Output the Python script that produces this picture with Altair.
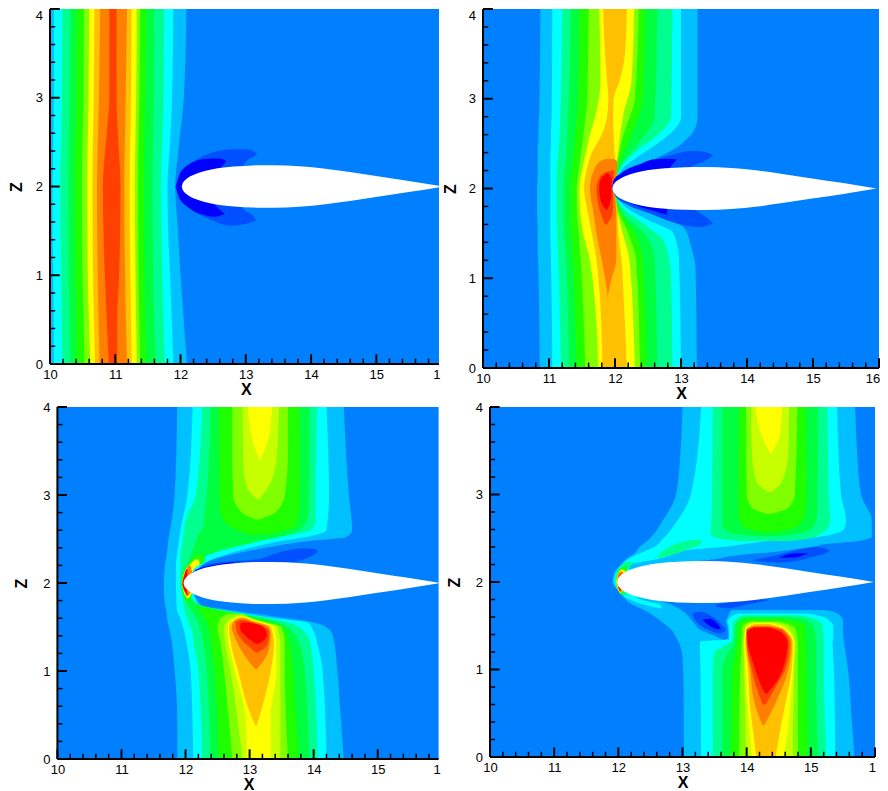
import altair as alt
import pandas as pd

LEVEL_IDS = list(range(15))
LEVEL_COLORS = ["#0000ff", "#0050ff", "#0080ff", "#00c0ff", "#00ffff", "#00ff90", "#00ff40", "#20ff00",
                "#80ff00", "#c8ff00", "#ffff00", "#ffc000", "#ff8000", "#ff4000", "#ff0000"]
BG = "#0080ff"

X_MAJOR = [10, 11, 12, 13, 14, 15, 16]
X_MINOR = [10.2, 10.4, 10.6, 10.8, 11.2, 11.4, 11.6, 11.8, 12.2, 12.4, 12.6, 12.8, 13.2, 13.4, 13.6, 13.8,
           14.2, 14.4, 14.6, 14.8, 15.2, 15.4, 15.6, 15.8]
Z_MAJOR = [0, 1, 2, 3, 4]
Z_MINOR = [0.2, 0.4, 0.6, 0.8, 1.2, 1.4, 1.6, 1.8, 2.2, 2.4, 2.6, 2.8, 3.2, 3.4, 3.6, 3.8]

AIRFOIL_X = [12.0, 12.01, 12.03, 12.07, 12.13, 12.22, 12.35, 12.55, 12.8, 13.1, 13.4, 13.8, 14.2, 14.6, 15.0, 15.5, 16.0]
AIRFOIL_T = [0, 0.03, 0.055, 0.085, 0.115, 0.145, 0.175, 0.205, 0.225, 0.238, 0.24, 0.228, 0.2, 0.16, 0.115, 0.06, 0]

# bands: (level, [(z, x_left, x_right), ...])
P1_BANDS = [
    (3, [(0, 10, 12.10), (1, 10, 12.00), (1.5, 10, 11.96), (2, 10, 11.92), (2.5, 10, 11.98), (3, 10, 12.05), (4, 10, 12.09)]),
    (4, [(0, 10.06, 11.89), (1, 10.05, 11.84), (1.5, 10.04, 11.81), (2, 10.04, 11.80), (2.5, 10.05, 11.84), (3, 10.06, 11.87), (4, 10.06, 11.89)]),
    (5, [(0, 10.19, 11.76), (1, 10.17, 11.72), (2, 10.16, 11.70), (3, 10.18, 11.74), (4, 10.19, 11.75)]),
    (6, [(0, 10.31, 11.62), (1, 10.29, 11.58), (2, 10.28, 11.57), (3, 10.30, 11.59), (4, 10.31, 11.60)]),
    (7, [(0, 10.41, 11.47), (1, 10.39, 11.45), (2, 10.38, 11.44), (3, 10.40, 11.46), (4, 10.41, 11.47)]),
    (8, [(0, 10.53, 11.38), (1, 10.50, 11.36), (2, 10.49, 11.35), (3, 10.51, 11.37), (4, 10.52, 11.38)]),
    (10, [(0, 10.62, 11.33), (1, 10.58, 11.31), (2, 10.57, 11.30), (3, 10.59, 11.32), (4, 10.60, 11.33)]),
    (11, [(0, 10.69, 11.25), (1, 10.66, 11.23), (2, 10.65, 11.22), (3, 10.67, 11.24), (4, 10.68, 11.25)]),
    (12, [(0, 10.76, 11.18), (1, 10.73, 11.15), (2, 10.72, 11.14), (3, 10.75, 11.16), (4, 10.77, 11.18)]),
    (13, [(0, 10.90, 11.03), (0.5, 10.87, 11.03), (1, 10.84, 11.06), (2, 10.81, 11.08), (2.6, 10.87, 11.04), (3, 10.91, 11.02), (4, 10.91, 11.02)]),
]
# patches: (level, [(x, z_low, z_high), ...])
P1_PATCHES = [
    (1, [(11.92, 1.99, 2.0), (12.0, 2.0, 2.14), (12.16, 2.0, 2.255), (12.42, 2.0, 2.367), (12.82, 2.05, 2.42), (13.0, 2.28, 2.42), (13.08, 2.32, 2.41), (13.18, 2.367, 2.367)]),
    (1, [(11.92, 2.0, 2.01), (12.0, 1.86, 2.0), (12.16, 1.74, 2.0), (12.42, 1.64, 2.0), (12.78, 1.558, 1.95), (13.0, 1.58, 1.72), (13.1, 1.60, 1.68), (13.16, 1.62, 1.62)]),
    (0, [(11.93, 2.0, 2.0), (11.98, 2.0, 2.13), (12.11, 2.0, 2.24), (12.36, 2.05, 2.31), (12.6, 2.2, 2.315), (12.7, 2.285, 2.285)]),
    (0, [(11.93, 2.0, 2.0), (11.98, 1.87, 2.0), (12.11, 1.77, 2.0), (12.36, 1.68, 1.95), (12.52, 1.66, 1.8), (12.68, 1.69, 1.69)]),
]

P2_BANDS = [
    (3, [(0, 10.86, 13.24), (1.1, 10.84, 13.22), (1.36, 10.83, 13.15), (1.56, 10.83, 13.05), (1.7, 10.82, 12.64), (1.8, 10.82, 12.3), (1.9, 10.82, 12.1), (2, 10.82, 12.0), (2.2, 10.83, 12.15), (2.33, 10.83, 12.6), (2.45, 10.83, 12.92), (2.56, 10.84, 13.1), (2.65, 10.84, 13.2), (2.8, 10.85, 13.25), (4, 10.87, 13.25)]),
    (4, [(0, 11.05, 13.0), (1.2, 11.03, 12.97), (1.5, 11.02, 12.89), (1.65, 11.02, 12.5), (1.8, 11.02, 12.15), (2, 11.02, 12.0), (2.2, 11.02, 12.09), (2.35, 11.02, 12.34), (2.5, 11.03, 12.64), (2.65, 11.03, 12.89), (2.8, 11.04, 13.0), (4, 11.05, 13.0)]),
    (5, [(0, 11.18, 12.87), (1, 11.15, 12.85), (1.4, 11.13, 12.75), (1.6, 11.12, 12.45), (1.8, 11.12, 12.1), (2, 11.12, 12.0), (2.2, 11.12, 12.06), (2.4, 11.14, 12.3), (2.6, 11.16, 12.65), (2.8, 11.17, 12.85), (4, 11.2, 12.87)]),
    (6, [(0, 11.3, 12.64), (1.2, 11.26, 12.6), (1.5, 11.23, 12.45), (1.7, 11.22, 12.15), (2, 11.22, 12.0), (2.3, 11.25, 12.13), (2.5, 11.27, 12.35), (2.8, 11.29, 12.6), (4, 11.33, 12.64)]),
    (7, [(0, 11.42, 12.48), (1.2, 11.36, 12.42), (1.5, 11.33, 12.3), (1.7, 11.32, 12.12), (2, 11.32, 12), (2.3, 11.36, 12.08), (2.6, 11.4, 12.25), (3, 11.44, 12.42), (4, 11.46, 12.46)]),
    (8, [(0, 11.55, 12.38), (1.2, 11.48, 12.32), (1.5, 11.45, 12.2), (1.8, 11.42, 12.03), (2, 11.42, 12), (2.2, 11.45, 12.02), (2.6, 11.52, 12.13), (3, 11.58, 12.3), (4, 11.6, 12.36)]),
    (10, [(0, 11.75, 12.3), (1.2, 11.62, 12.22), (1.5, 11.52, 12.12), (1.9, 11.46, 12.0), (2, 11.46, 12.0), (2.2, 11.5, 12.0), (2.4, 11.56, 12.05), (2.6, 11.62, 12.08), (2.8, 11.7, 12.12), (3.2, 11.78, 12.25), (4, 11.76, 12.29)]),
    (11, [(0, 11.81, 12.18), (0.8, 11.77, 12.13), (1.2, 11.72, 12.1), (1.5, 11.65, 12.05), (1.8, 11.57, 12.03), (2, 11.53, 12.0), (2.2, 11.57, 12.03), (2.4, 11.65, 11.99), (2.6, 11.8, 11.98), (2.8, 11.88, 11.97), (3, 11.9, 11.98), (3.2, 11.88, 12.07), (3.5, 11.85, 12.15), (4, 11.82, 12.18)]),
    (12, [(0.8, 11.89, 11.89), (1, 11.85, 11.95), (1.2, 11.8, 12.02), (1.5, 11.72, 12.02), (1.7, 11.68, 12.02), (2, 11.62, 12.0), (2.2, 11.68, 12.03), (2.3, 11.77, 12.03), (2.33, 11.85, 11.98)]),
    (13, [(1.6, 11.85, 11.88), (1.75, 11.77, 11.97), (2, 11.72, 11.97), (2.1, 11.75, 11.98), (2.17, 11.83, 11.98), (2.2, 11.95, 12.0)]),
    (14, [(1.76, 11.87, 11.88), (1.85, 11.79, 11.93), (2, 11.76, 11.95), (2.1, 11.78, 11.95), (2.17, 11.88, 11.9)]),
]
P2_PATCHES = [
    (1, [(11.95, 2.0, 2.0), (11.98, 2.0, 2.08), (12.14, 2.0, 2.19), (12.44, 2.0, 2.28), (12.84, 2.1, 2.37), (13.17, 2.25, 2.42), (13.35, 2.3, 2.41), (13.49, 2.37, 2.37)]),
    (1, [(11.95, 2.0, 2.0), (12.01, 1.91, 2.0), (12.19, 1.82, 2.0), (12.54, 1.72, 2.0), (12.94, 1.61, 1.9), (13.3, 1.57, 1.72), (13.42, 1.59, 1.66), (13.49, 1.61, 1.61)]),
    (0, [(11.96, 2.0, 2.0), (11.98, 2.0, 2.09), (12.09, 2.0, 2.17), (12.34, 2.0, 2.26), (12.64, 2.1, 2.33), (12.85, 2.25, 2.33), (12.94, 2.325, 2.325)]),
    (0, [(11.96, 2.0, 2.0), (11.98, 1.96, 2.0), (12.09, 1.89, 2.0), (12.29, 1.82, 2.0), (12.54, 1.76, 2.0), (12.79, 1.705, 1.8)]),
]

P3_BANDS = [
    (3, [(0, 11.87, 14.47), (0.5, 11.87, 14.42), (1, 11.83, 14.37), (1.4, 11.77, 14.30), (1.5, 11.74, 14.19), (1.56, 11.72, 13.95), (1.62, 11.71, 13.38), (1.68, 11.70, 12.81), (1.75, 11.68, 12.24), (2, 11.66, 12.1), (2.2, 11.68, 12.2), (2.3, 11.7, 12.6), (2.4, 11.72, 13.25), (2.48, 11.73, 13.95), (2.52, 11.74, 14.5), (2.6, 11.76, 14.6), (3, 11.83, 14.55), (4, 11.87, 14.47)]),
    (4, [(0, 12.12, 14.2), (1, 12.08, 14.14), (1.3, 12.02, 14.06), (1.45, 11.98, 14.0), (1.55, 11.94, 13.9), (1.6, 11.92, 13.38), (1.68, 11.87, 12.7), (1.75, 11.86, 12.2), (2, 11.85, 12.1), (2.2, 11.85, 12.25), (2.35, 11.87, 12.75), (2.45, 11.89, 13.3), (2.55, 11.91, 14.05), (2.6, 11.92, 14.2), (3, 12.03, 14.24), (4, 12.11, 14.20)]),
    (5, [(0, 12.26, 14.06), (1, 12.2, 14.0), (1.3, 12.13, 13.95), (1.45, 12.1, 13.85), (1.55, 12.05, 13.6), (1.65, 12.0, 12.9), (1.75, 11.97, 12.2), (2, 11.93, 12.0), (2.25, 11.92, 12.2), (2.4, 11.94, 12.7), (2.5, 11.96, 13.3), (2.6, 11.98, 13.95), (2.7, 12.0, 14.03), (3, 12.16, 14.03), (4, 12.26, 14.05)]),
    (6, [(0, 12.39, 13.93), (1, 12.33, 13.86), (1.3, 12.28, 13.78), (1.5, 12.22, 13.6), (1.6, 12.17, 13.2), (1.68, 12.1, 12.6), (1.8, 12.0, 12.1), (2, 11.96, 12.0), (2.15, 12.03, 12.08), (2.25, 12.05, 12.2), (2.35, 12.1, 12.45), (2.45, 12.15, 13.0), (2.55, 12.2, 13.6), (2.65, 12.28, 13.85), (2.8, 12.3, 13.92), (3, 12.33, 13.93), (4, 12.39, 13.93)]),
    (7, [(2.55, 13.0, 13.3), (2.65, 12.68, 13.72), (2.8, 12.55, 13.77), (3, 12.53, 13.78), (4, 12.52, 13.77)]),
    (8, [(2.72, 13.1, 13.14), (2.8, 12.88, 13.4), (3, 12.74, 13.55), (3.5, 12.73, 13.6), (4, 12.73, 13.6)]),
    (9, [(2.95, 13.12, 13.14), (3.1, 12.95, 13.3), (3.4, 12.9, 13.42), (4, 12.89, 13.46)]),
    (10, [(3.39, 13.16, 13.16), (3.6, 13.05, 13.28), (3.8, 13.0, 13.33), (4, 12.97, 13.35)]),
    (7, [(0, 12.52, 13.77), (0.5, 12.5, 13.72), (1, 12.45, 13.68), (1.3, 12.4, 13.63), (1.5, 12.35, 13.52), (1.6, 12.3, 13.05), (1.66, 12.25, 12.75), (1.72, 12.2, 12.25)]),
    (8, [(0, 12.73, 13.6), (1, 12.6, 13.55), (1.3, 12.55, 13.55), (1.5, 12.5, 13.5), (1.58, 12.53, 13.1), (1.65, 12.65, 12.9)]),
    (9, [(0, 12.89, 13.48), (1, 12.7, 13.48), (1.3, 12.62, 13.48), (1.5, 12.6, 13.43), (1.6, 12.7, 13.02), (1.63, 12.8, 12.9)]),
    (10, [(0, 12.96, 13.33), (0.5, 12.93, 13.33), (1, 12.77, 13.42), (1.3, 12.68, 13.42), (1.5, 12.66, 13.38), (1.58, 12.74, 13.05), (1.62, 12.84, 12.9)]),
    (11, [(0.38, 13.09, 13.11), (0.6, 12.97, 13.2), (1, 12.82, 13.33), (1.3, 12.71, 13.38), (1.5, 12.68, 13.33), (1.58, 12.76, 13.02), (1.61, 12.85, 12.92)]),
    (12, [(1.02, 13.09, 13.11), (1.2, 12.9, 13.28), (1.4, 12.76, 13.33), (1.5, 12.72, 13.3), (1.58, 12.78, 12.98), (1.6, 12.85, 12.92)]),
    (13, [(1.21, 13.1, 13.13), (1.3, 12.95, 13.28), (1.45, 12.8, 13.31), (1.55, 12.78, 13.05), (1.58, 12.85, 12.92)]),
    (14, [(1.31, 13.1, 13.15), (1.4, 12.93, 13.27), (1.5, 12.85, 13.22), (1.55, 12.87, 13.0)]),
    (7, [(1.8, 12.0, 12.08), (1.9, 11.95, 12.1), (2, 11.93, 12.1), (2.15, 11.98, 12.1), (2.25, 12.08, 12.3), (2.32, 12.18, 12.28)]),
    (10, [(1.83, 12.02, 12.05), (1.9, 11.97, 12.1), (2, 11.95, 12.1), (2.15, 12.0, 12.12), (2.22, 12.08, 12.22), (2.27, 12.15, 12.2)]),
    (12, [(1.86, 12.03, 12.05), (1.95, 11.96, 12.1), (2.1, 12.0, 12.1), (2.2, 12.04, 12.08)]),
    (14, [(1.854, 12.02, 12.04), (1.92, 11.98, 12.02), (1.99, 11.95, 12.02), (2.07, 11.97, 12.03), (2.157, 12.01, 12.03)]),
]
P3_PATCHES = [
    (1, [(12.1, 2.1, 2.12), (12.3, 2.1, 2.2), (12.6, 2.1, 2.24), (13.12, 2.1, 2.27), (13.54, 2.2, 2.365), (13.85, 2.27, 2.395), (14.0, 2.32, 2.385), (14.08, 2.365, 2.365)]),
    (0, [(12.15, 2.1, 2.15), (12.4, 2.1, 2.2), (12.75, 2.1, 2.24)]),
]

P4_BANDS = [
    (3, [(0, 13.02, 15.68), (0.5, 13.02, 15.63), (1, 13.01, 15.58), (1.15, 13.0, 15.55), (1.3, 12.95, 15.52)]),
    (3, [(1.3, 12.95, 13.7), (1.37, 12.9, 13.55), (1.45, 12.83, 13.29), (1.55, 12.67, 13.16), (1.68, 12.4, 12.98), (1.75, 12.2, 12.8), (1.87, 12.04, 12.3), (2, 11.91, 12.1), (2.1, 11.93, 12.2), (2.2, 12.04, 12.6), (2.25, 12.1, 13.4), (2.3, 12.2, 13.8), (2.35, 12.28, 14.5), (2.4, 12.33, 15.0), (2.44, 12.4, 15.3), (2.47, 12.45, 15.75), (2.52, 12.52, 15.95), (2.7, 12.69, 15.95), (3, 12.9, 15.78), (3.5, 12.97, 15.72), (4, 13.0, 15.69)]),
    (3, [(1.3, 13.75, 15.52), (1.45, 13.72, 15.5), (1.55, 13.68, 15.5), (1.62, 13.72, 15.45), (1.67, 13.75, 15.3), (1.68, 13.8, 15.2)]),
    (4, [(0, 13.29, 15.38), (1, 13.28, 15.36), (1.3, 13.27, 15.34), (1.32, 13.27, 15.34), (1.35, 13.72, 15.35), (1.5, 13.72, 15.35), (1.55, 13.7, 15.3), (1.6, 13.75, 15.2), (1.64, 13.85, 14.95)]),
    (4, [(2, 11.93, 12.1), (2.1, 11.96, 12.15), (2.2, 12.06, 12.2), (2.26, 12.15, 12.6), (2.3, 12.25, 12.8), (2.35, 12.4, 12.92), (2.4, 12.56, 13.6), (2.48, 12.68, 14.48), (2.52, 12.73, 15.16), (2.61, 12.83, 15.52), (2.7, 12.92, 15.55), (3, 13.13, 15.47), (4, 13.29, 15.41)]),
    (4, [(1.7, 12.62, 12.68), (1.74, 12.4, 12.65), (1.79, 12.2, 12.4), (1.87, 12.04, 12.2), (2, 11.93, 12.1)]),
    (5, [(2.47, 13.85, 14.7), (2.5, 13.55, 15.0), (2.55, 13.44, 15.15), (2.62, 13.44, 15.27), (2.7, 13.45, 15.3), (3, 13.46, 15.28), (4, 13.47, 15.26)]),
    (5, [(2.28, 12.6, 12.65), (2.33, 12.65, 12.92), (2.38, 12.75, 13.1), (2.44, 12.92, 13.29), (2.48, 13.15, 13.29)]),
    (5, [(0, 13.47, 15.24), (1, 13.47, 15.2), (1.2, 13.5, 15.2), (1.25, 13.6, 15.2), (1.35, 13.78, 15.2), (1.5, 13.78, 15.18), (1.58, 13.85, 15.05), (1.62, 13.95, 14.8)]),
    (5, [(1.85, 12.05, 12.15), (2, 11.95, 12.1), (2.15, 12.0, 12.15), (2.23, 12.1, 12.25)]),
    (6, [(2.52, 14.2, 14.5), (2.56, 13.75, 14.85), (2.65, 13.62, 15.05), (2.8, 13.62, 15.1), (4, 13.62, 15.11)]),
    (6, [(0, 13.62, 15.11), (1, 13.62, 15.08), (1.2, 13.72, 15.08), (1.3, 13.8, 15.08), (1.5, 13.82, 15.03), (1.58, 13.9, 14.85), (1.6, 14.0, 14.65)]),
    (7, [(2.57, 14.25, 14.45), (2.62, 13.97, 14.75), (2.75, 13.88, 14.9), (3, 13.87, 14.93), (4, 13.88, 14.92)]),
    (7, [(0, 13.75, 14.95), (1, 13.78, 14.93), (1.3, 13.85, 14.92), (1.5, 13.87, 14.9), (1.56, 13.95, 14.7), (1.58, 14.05, 14.5)]),
    (7, [(1.87, 12.02, 12.08), (2, 11.96, 12.1), (2.12, 12.0, 12.12), (2.17, 12.06, 12.15)]),
    (8, [(2.78, 14.3, 14.4), (2.85, 14.08, 14.65), (3, 14.0, 14.75), (4, 13.99, 14.79)]),
    (8, [(0, 13.88, 14.8), (1, 13.9, 14.8), (1.3, 13.92, 14.8), (1.48, 13.93, 14.75), (1.55, 14.05, 14.5)]),
    (9, [(3.03, 14.33, 14.38), (3.15, 14.15, 14.55), (3.5, 14.08, 14.65), (4, 14.07, 14.66)]),
    (9, [(0, 13.99, 14.72), (1, 13.96, 14.74), (1.3, 13.95, 14.76), (1.5, 13.98, 14.62), (1.54, 14.1, 14.4)]),
    (10, [(3.47, 14.37, 14.39), (3.7, 14.22, 14.52), (4, 14.14, 14.55)]),
    (10, [(0, 14.08, 14.58), (0.5, 14.02, 14.67), (1, 13.98, 14.72), (1.3, 13.96, 14.74), (1.48, 14.0, 14.58), (1.53, 14.12, 14.38)]),
    (10, [(1.88, 12.02, 12.05), (2, 11.97, 12.1), (2.1, 12.0, 12.1), (2.14, 12.03, 12.1)]),
    (11, [(0, 14.15, 14.45), (0.3, 14.1, 14.52), (0.6, 14.05, 14.6), (1, 14.02, 14.7), (1.3, 13.98, 14.72), (1.46, 14.0, 14.58), (1.52, 14.12, 14.37)]),
    (12, [(0.37, 14.24, 14.28), (0.6, 14.13, 14.44), (1, 14.05, 14.65), (1.3, 14.0, 14.7), (1.46, 14.0, 14.57), (1.5, 14.12, 14.36)]),
    (12, [(1.89, 12.02, 12.05), (2, 11.98, 12.1), (2.09, 12.0, 12.08), (2.12, 12.03, 12.07)]),
    (13, [(0.6, 14.25, 14.3), (0.8, 14.15, 14.45), (1, 14.08, 14.6), (1.3, 14.0, 14.67), (1.45, 14.0, 14.56), (1.49, 14.12, 14.35)]),
    (14, [(0.73, 14.28, 14.32), (0.9, 14.18, 14.5), (1.1, 14.09, 14.6), (1.3, 14.01, 14.64), (1.42, 14.0, 14.55), (1.48, 14.1, 14.35)]),
    (14, [(1.9, 12.02, 12.04), (1.95, 12.0, 12.03), (2, 11.99, 12.03), (2.05, 12.0, 12.03), (2.09, 12.03, 12.05)]),
]
P4_PATCHES = [
    (1, [(13.16, 1.62, 1.64), (13.18, 1.585, 1.65), (13.31, 1.49, 1.66), (13.45, 1.44, 1.61), (13.57, 1.41, 1.55), (13.68, 1.45, 1.45)]),
    (0, [(13.31, 1.57, 1.57), (13.42, 1.50, 1.58), (13.55, 1.46, 1.52), (13.6, 1.47, 1.47)]),
    (1, [(13.52, 1.72, 1.74), (13.7, 1.70, 1.77), (14.0, 1.74, 1.80), (14.33, 1.79, 1.80)]),
    (1, [(14.09, 2.25, 2.25), (14.48, 2.22, 2.31), (14.95, 2.27, 2.39), (15.1, 2.3, 2.40), (15.2, 2.32, 2.39), (15.29, 2.36, 2.36)]),
    (0, [(14.51, 2.275, 2.28), (14.74, 2.28, 2.33), (14.95, 2.325, 2.33)]),
]


def rows(shapes, a, b, c):
    out = []
    for i, (level, pts) in enumerate(shapes):
        for p in pts:
            out.append({"shape": i, "level": level, a: p[0], b: p[1], c: p[2]})
    return pd.DataFrame(out)


def panel(bands, patches, xmax, shift, width, height, x_values, z_values, end_label, xmin=10.0,
          zlabel_pad=7.5, ztitle_pad=10.5, xtitle_x=None, dom_max=None):
    xs = alt.Scale(domain=[xmin, dom_max if dom_max is not None else xmax], nice=False, zero=False)
    zs = alt.Scale(domain=[0, 4], nice=False, zero=False)
    fill = alt.Fill("level:N", scale=alt.Scale(domain=LEVEL_IDS, range=LEVEL_COLORS), legend=None)
    x_opts = {} if xtitle_x is None else {"titleX": xtitle_x}
    x_axis = alt.Axis(
        title="X", values=x_values, format="d", ticks=False, grid=False, domain=False,
        labelExpr=f"datum.value > 15.5 ? '{end_label}' : datum.label", labelFlush=False,
        labelOverlap=False, labelBound=False, labelFontSize=13, labelFont="Liberation Sans", labelColor="black", labelPadding=4,
        titleFont="Liberation Sans", titleFontSize=16, titleFontWeight="bold", titleColor="black", titlePadding=0,
        **x_opts,
    )
    z_axis = alt.Axis(
        title="Z", values=z_values, format="d", ticks=False, grid=False, domain=False,
        labelExpr="datum.value > 3.5 ? '4' : datum.label",
        labelFlush=False, labelOverlap=False, labelBound=False, labelFontSize=13, labelFont="Liberation Sans", labelColor="black",
        labelPadding=zlabel_pad,
        titleFont="Liberation Sans", titleFontSize=16, titleFontWeight="bold", titleColor="black", titlePadding=ztitle_pad,
    )
    X = lambda f: alt.X(f, scale=xs, axis=x_axis)
    Y = lambda f: alt.Y(f, scale=zs, axis=z_axis)

    back = alt.Chart(pd.DataFrame({"a": [10], "b": [xmax], "c": [0], "d": [4]})).mark_rect(color=BG).encode(
        x=X("a:Q"), x2="b:Q", y=Y("c:Q"), y2="d:Q")
    band_layer = alt.Chart(rows(bands, "z", "xl", "xr")).mark_area(
        orient="horizontal", interpolate="monotone", clip=True
    ).encode(y=Y("z:Q"), x=X("xl:Q"), x2="xr:Q", fill=fill, detail="shape:N")
    patch_layer = alt.Chart(rows(patches, "x", "lo", "hi")).mark_area(
        orient="vertical", interpolate="monotone", clip=True
    ).encode(x=X("x:Q"), y=Y("lo:Q"), y2="hi:Q", fill=fill, detail="shape:N")
    foil = pd.DataFrame({
        "x": [v + shift for v in AIRFOIL_X],
        "lo": [2 - t for t in AIRFOIL_T],
        "hi": [2 + t for t in AIRFOIL_T],
    })
    foil_layer = alt.Chart(foil).mark_area(orient="vertical", interpolate="monotone", clip=True, color="white").encode(
        x=X("x:Q"), y=Y("lo:Q"), y2="hi:Q")

    def xticks(vals, length, sw):
        d = pd.DataFrame({"x": [v for v in vals if v <= xmax]})
        d["a"] = 0
        d["b"] = length
        return alt.Chart(d).mark_rule(color="black", strokeWidth=sw).encode(x=X("x:Q"), y=Y("a:Q"), y2="b:Q")

    def zticks(vals, length, sw):
        d = pd.DataFrame({"z": vals})
        d["a"] = 10
        d["b"] = 10 + length
        return alt.Chart(d).mark_rule(color="black", strokeWidth=sw).encode(y=Y("z:Q"), x=X("a:Q"), x2="b:Q")

    x_line = alt.Chart(pd.DataFrame({"a": [10], "b": [xmax], "z": [0]})).mark_rule(color="black", strokeWidth=2).encode(
        x=X("a:Q"), x2="b:Q", y=Y("z:Q"))
    z_line = alt.Chart(pd.DataFrame({"x": [10], "a": [0], "b": [4]})).mark_rule(color="black", strokeWidth=2).encode(
        x=X("x:Q"), y=Y("a:Q"), y2="b:Q")

    return alt.layer(
        back, band_layer, patch_layer, foil_layer,
        xticks(X_MAJOR, 0.11, 2), xticks(X_MINOR, 0.06, 1.5),
        zticks(Z_MAJOR, 0.15, 2), zticks(Z_MINOR, 0.08, 1.5),
        x_line, z_line,
    ).properties(width=width, height=height, view=alt.ViewBackground(fill=None, stroke=None))


P1_X_VALUES = [10, 11, 12, 13, 14, 15, 15.92]
P2_X_VALUES = [10, 11, 12, 13, 14, 15, 15.9]
P3_X_VALUES = [10, 11, 12, 13, 14, 15, 15.92]
P4_X_VALUES = [10, 11, 12, 13, 14, 15, 15.95]
Z_TOP_VALUES = [0, 1, 2, 3, 3.93]
P3_XMIN = 9.8845
p1 = panel(P1_BANDS, P1_PATCHES, 15.96, 0.02, 391.6, 355, P1_X_VALUES, Z_TOP_VALUES, "1", dom_max=16)
p2 = panel(P2_BANDS, P2_PATCHES, 16, -0.04, 396, 359, P2_X_VALUES, Z_TOP_VALUES, "16", ztitle_pad=9.4)
p3 = panel(P3_BANDS, P3_PATCHES, 15.95, -0.03, 388.6, 352, P3_X_VALUES, Z_MAJOR, "1", xmin=P3_XMIN,
           zlabel_pad=0, ztitle_pad=13.6, xtitle_x=198.7)
p4 = panel(P4_BANDS, P4_PATCHES, 16, -0.02, 385, 350, P4_X_VALUES, Z_MAJOR, "1", ztitle_pad=12.8)

top = alt.hconcat(p1, p2, spacing=0)
bottom = alt.hconcat(p3, p4, spacing=5)
chart = alt.vconcat(top, bottom, spacing=0).properties(padding=0, background="white")
chart.save("out.html", embed_options={"renderer": "svg", "actions": False})
